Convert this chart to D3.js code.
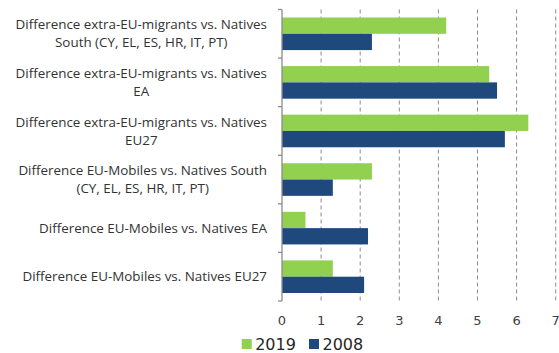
<!DOCTYPE html>
<html><head><meta charset="utf-8">
<script src="https://cdn.jsdelivr.net/npm/d3@7"></script>
<style>body{margin:0;background:#fff}</style>
</head><body>
<svg id="c" width="559" height="353"></svg>
<script>
const categories = [
  "Difference extra-EU-migrants vs. Natives\nSouth (CY, EL, ES, HR, IT, PT)",
  "Difference extra-EU-migrants vs. Natives\nEA",
  "Difference extra-EU-migrants vs. Natives\nEU27",
  "Difference EU-Mobiles vs. Natives South\n(CY, EL, ES, HR, IT, PT)",
  "Difference EU-Mobiles vs. Natives EA",
  "Difference EU-Mobiles vs. Natives EU27"
];
const seriesNames = ["2019", "2008"];
const values2019 = [4.2, 5.3, 6.3, 2.3, 0.6, 1.3];
const values2008 = [2.3, 5.5, 5.7, 1.3, 2.2, 2.1];
const xTicks = [0, 1, 2, 3, 4, 5, 6, 7];
const colors = ["#92D050", "#1F497D"];

(function () {
const svg = d3.select("#c");
const pL = 282, pR = 555.7, pT = 9.5, pB = 301;
const x = d3.scaleLinear().domain([0, 7]).range([pL, pR]);
const y = d3.scaleBand().domain(categories).range([pT, pB]).paddingInner(0).paddingOuter(0);
const inner = d3.scaleBand().domain(seriesNames).range([0, y.bandwidth()]).paddingInner(0).paddingOuter(0.49);

svg.append("g").selectAll("line").data(xTicks.filter(d => d > 0)).join("line")
  .attr("x1", d => x(d)).attr("x2", d => x(d)).attr("y1", pT).attr("y2", pB)
  .attr("stroke", "#8c8c8c").attr("stroke-width", 1).attr("stroke-dasharray", "4,3");

const data = [values2019, values2008];
categories.forEach((c, i) => {
  seriesNames.forEach((s, j) => {
    svg.append("rect")
      .attr("x", x(0)).attr("y", y(c) + inner(s))
      .attr("width", x(data[j][i]) - x(0)).attr("height", inner.bandwidth())
      .attr("fill", colors[j]);
  });
});

const ya = svg.append("g");
ya.append("line").attr("x1", pL).attr("x2", pL).attr("y1", pT).attr("y2", pB)
  .attr("stroke", "#8c8c8c").attr("stroke-width", 1.3);
const bounds = categories.map(c => y(c)).concat([pB]);
ya.selectAll("line.t").data(bounds).join("line").attr("class", "t")
  .attr("x1", pL - 4).attr("x2", pL).attr("y1", d => d).attr("y2", d => d)
  .attr("stroke", "#8c8c8c").attr("stroke-width", 1.3);

const labelRight = 267;
categories.forEach(c => {
  const lines = c.split("\n");
  const g = svg.append("g");
  const lh = 18;
  const cy = y(c) + y.bandwidth() / 2;
  const texts = lines.map((l, k) => g.append("text").text(l)
    .attr("font-family", "Open Sans, sans-serif").attr("font-size", 13.4)
    .attr("fill", "#333").attr("text-anchor", "middle")
    .attr("y", cy + (k - (lines.length - 1) / 2) * lh + 4.6));
  const maxw = d3.max(texts, t => t.node().getComputedTextLength());
  texts.forEach(t => t.attr("x", labelRight - maxw / 2));
});

svg.append("g").selectAll("text").data(xTicks).join("text")
  .attr("x", d => x(d)).attr("y", 325).attr("text-anchor", "middle")
  .attr("font-family", "DejaVu Sans, sans-serif").attr("font-size", 13)
  .attr("fill", "#404040").text(d => d);

const legX = [241.7, 309];
seriesNames.forEach((s, j) => {
  svg.append("rect").attr("x", legX[j]).attr("y", 339).attr("width", 10).attr("height", 10).attr("fill", colors[j]);
  svg.append("text").attr("x", legX[j] + 13.5).attr("y", 350).text(s)
    .attr("font-family", "DejaVu Sans, sans-serif").attr("font-size", 16).attr("fill", "#262626");
});
})();
</script>
</body></html>
